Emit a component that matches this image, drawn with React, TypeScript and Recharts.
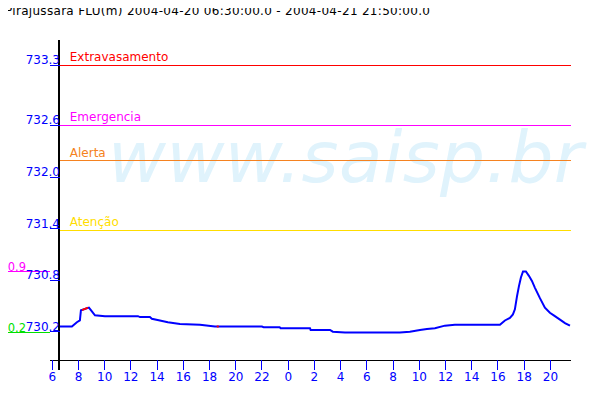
import React from 'react';
import { LineChart, Line, XAxis, YAxis, ReferenceLine } from 'recharts';

// hours counted from 2004-04-20 00:00
const hours = [6.59, 7.5, 7.88, 8.11, 8.19, 8.8, 8.95, 9.26, 10.02, 12.54, 12.69, 13.45, 13.6, 14.21, 14.82, 15.74, 17.27, 18.41, 22.0, 22.13, 23.35, 23.42, 25.66, 25.71, 27.19, 27.4, 28.33, 32.52, 33.28, 34.05, 34.58, 35.19, 35.95, 36.71, 40.15, 40.53, 40.91, 41.14, 41.29, 41.45, 41.6, 41.75, 41.91, 42.13, 42.36, 42.59, 42.82, 43.2, 43.58, 43.96, 44.34, 44.73, 45.11, 45.49];
const levels = [730.26, 730.26, 730.31, 730.33, 730.45, 730.48, 730.45, 730.39, 730.38, 730.38, 730.37, 730.37, 730.35, 730.33, 730.31, 730.29, 730.28, 730.26, 730.26, 730.25, 730.25, 730.24, 730.24, 730.22, 730.22, 730.2, 730.19, 730.19, 730.2, 730.22, 730.23, 730.24, 730.27, 730.28, 730.28, 730.33, 730.36, 730.4, 730.46, 730.61, 730.73, 730.83, 730.9, 730.9, 730.85, 730.79, 730.71, 730.59, 730.48, 730.42, 730.38, 730.34, 730.3, 730.27];

// stretches drawn in red (filled gaps)
const gapHours = [8.27, 8.72, 18.55, 18.7];
const gapLevels = [730.45, 730.48, 730.26, 730.26];

const thresholdNames = ['Extravasamento', 'Emergencia', 'Alerta', 'Atenção'];
const thresholdValues = [733.3, 732.6, 732.19, 731.38];
const thresholdColors = ['#ff0000', '#ff00ff', '#f58220', '#ffdd00'];

const yTicks = [730.2, 730.8, 731.4, 732.0, 732.6, 733.3];
const xTicks = [6, 8, 10, 12, 14, 16, 18, 20, 22, 24, 26, 28, 30, 32, 34, 36, 38, 40, 42, 44];

const startHour = 6.5;
const endHour = 45.57;
const title = 'Pirajussara FLU(m) 2004-04-20 06:30:00.0 - 2004-04-21 21:50:00.0';

const rows = [
  ...hours.map((t, i) => ({ t, level: levels[i], gap: null as number | null })),
  ...gapHours.map((t, i) => ({ t, level: null as number | null, gap: gapLevels[i] })),
].sort((a, b) => a.t - b.t);

const maxLevel = Math.max(...levels);
const minLevel = Math.min(...levels);

const FONT = 'DejaVu Sans';
const BLUE = '#0000ff';

function YTick({ y, payload }: any) {
  return (
    <g>
      <text x={60} y={y - 1} textAnchor="end" fill={BLUE} fontSize={12} fontFamily={FONT}>
        {Number(payload.value).toFixed(1)}
      </text>
      <line x1={50} x2={60} y1={y} y2={y} stroke={BLUE} shapeRendering="crispEdges" />
    </g>
  );
}

function XTick({ x, payload }: any) {
  return (
    <g>
      <line x1={x} x2={x} y1={360} y2={370} stroke={BLUE} shapeRendering="crispEdges" />
      <text x={x} y={381} textAnchor="middle" fill={BLUE} fontSize={12} fontFamily={FONT}>
        {payload.value % 24}
      </text>
    </g>
  );
}

function ThresholdLabel({ viewBox, text, color }: any) {
  return (
    <text x={viewBox.x + 11} y={viewBox.y - 4} fill={color} fontSize={12} fontFamily={FONT}>
      {text}
    </text>
  );
}

function ExtremeLabel({ viewBox, text, color }: any) {
  return (
    <g>
      <line x1={0} x2={viewBox.x} y1={viewBox.y} y2={viewBox.y} stroke={color} shapeRendering="crispEdges" />
      <text x={26} y={viewBox.y - 1} textAnchor="end" fill={color} fontSize={11.5} fontFamily={FONT}>
        {text}
      </text>
    </g>
  );
}

export default function App() {
  return (
    <div style={{ position: 'relative', width: 600, height: 400, margin: '-8px 0 0 -8px', background: '#fff' }}>
      <svg width={600} height={400} style={{ position: 'absolute', left: 0, top: 0 }}>
        <text x={5} y={15} fontSize={12} fontFamily={FONT} fill="#000" textLength={425} lengthAdjust="spacing">
          {title}
        </text>
        <text x={108} y={182} fontSize={71} fontFamily={FONT} fontStyle="italic" fill="#e0f3fc" textLength={475}>
          www.saisp.br
        </text>
      </svg>
      <div style={{ position: 'absolute', left: 0, top: 0 }}>
        <LineChart width={600} height={400} data={rows} margin={{ top: 40, right: 29, bottom: 10, left: 0 }}>
          <XAxis
            dataKey="t"
            type="number"
            domain={[5.83, endHour]}
            ticks={xTicks}
            allowDataOverflow
            axisLine={{ stroke: '#000', shapeRendering: 'crispEdges' }}
            tickLine={false}
            tick={<XTick />}
            height={30}
            interval={0}
          />
          <YAxis
            type="number"
            domain={[729.87, 733.595]}
            ticks={yTicks}
            allowDataOverflow
            axisLine={false}
            tickLine={false}
            tick={<YTick />}
            width={50}
            interval={0}
          />
          {thresholdNames.map((name, i) => (
            <ReferenceLine
              key={name}
              segment={[{ x: startHour, y: thresholdValues[i] }, { x: endHour, y: thresholdValues[i] }]}
              stroke={thresholdColors[i]}
              strokeWidth={1}
              shapeRendering="crispEdges"
              label={<ThresholdLabel text={name} color={thresholdColors[i]} />}
            />
          ))}
          <ReferenceLine
            y={maxLevel}
            stroke="none"
            label={<ExtremeLabel text={maxLevel.toFixed(1)} color="#ff00ff" />}
          />
          <ReferenceLine
            y={minLevel}
            stroke="none"
            label={<ExtremeLabel text={minLevel.toFixed(1)} color="#00e000" />}
          />
          <ReferenceLine
            segment={[{ x: startHour, y: 733.595 }, { x: startHour, y: 729.75 }]}
            ifOverflow="visible"
            stroke="#000"
            strokeWidth={1.5}
            shapeRendering="crispEdges"
          />
          <Line
            dataKey="level"
            type="linear"
            stroke={BLUE}
            strokeWidth={2}
            dot={false}
            connectNulls
            isAnimationActive={false}
          />
          <Line
            dataKey="gap"
            type="linear"
            stroke="#ff0000"
            strokeWidth={2}
            dot={false}
            isAnimationActive={false}
          />
        </LineChart>
      </div>
    </div>
  );
}
